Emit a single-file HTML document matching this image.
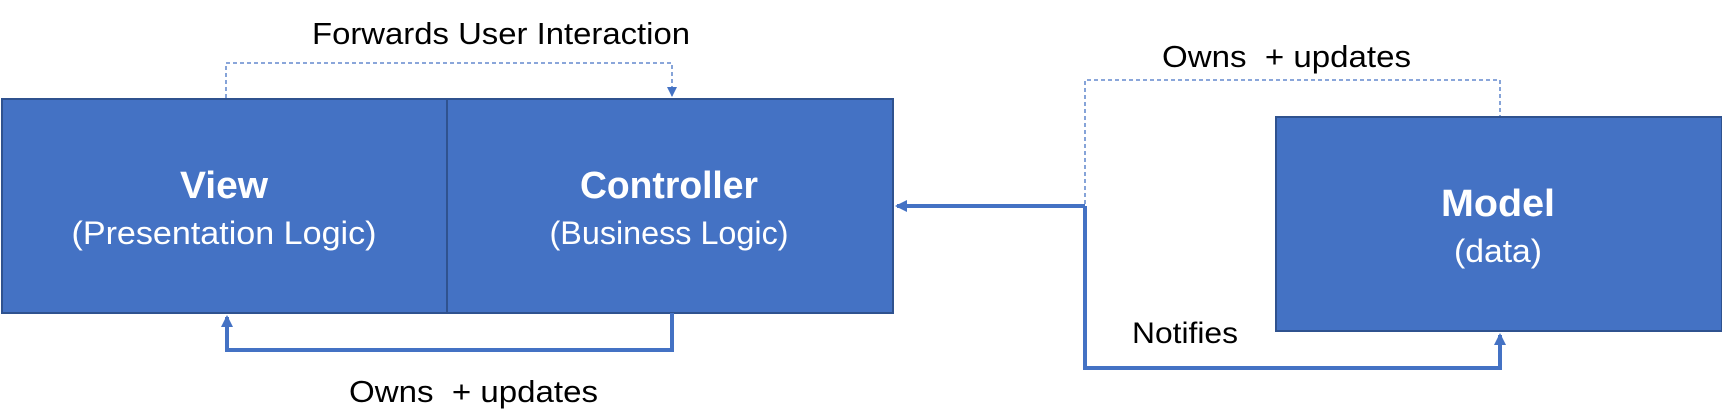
<!DOCTYPE html>
<html><head><meta charset="utf-8"><style>
html,body{margin:0;padding:0;background:#fff;}
svg{display:block;}
text{font-family:"Liberation Sans",Arial,sans-serif;}
</style></head><body>
<svg width="1722" height="420" viewBox="0 0 1722 420" xmlns="http://www.w3.org/2000/svg">
<defs>
<marker id="ah" markerWidth="12" markerHeight="12" refX="10" refY="6" orient="auto" markerUnits="userSpaceOnUse">
<path d="M0,0 L12,6 L0,12 z" fill="#4472C4"/></marker>
<marker id="ahs" markerWidth="10" markerHeight="10" refX="9" refY="5" orient="auto" markerUnits="userSpaceOnUse">
<path d="M0,0 L10,5 L0,10 z" fill="#4472C4"/></marker>
</defs>
<rect x="2" y="99" width="445" height="214" fill="#4472C4" stroke="#2F528F" stroke-width="2"/>
<rect x="447" y="99" width="446" height="214" fill="#4472C4" stroke="#2F528F" stroke-width="2"/>
<rect x="1276" y="117" width="446" height="214" fill="#4472C4" stroke="#2F528F" stroke-width="2"/>
<path d="M226,98 V63 H672 V96" fill="none" stroke="#4472C4" stroke-width="1.3" stroke-dasharray="4,3" marker-end="url(#ahs)"/>
<path d="M1085,204 V80 H1500 V116" fill="none" stroke="#4472C4" stroke-width="1.3" stroke-dasharray="4,3"/>
<path d="M672,313 V350 H227 V317" fill="none" stroke="#4472C4" stroke-width="4" marker-end="url(#ah)"/>
<path d="M1085,206 H897" fill="none" stroke="#4472C4" stroke-width="4" marker-end="url(#ah)"/>
<path d="M1085,206 V368 H1500 V335" fill="none" stroke="#4472C4" stroke-width="4" marker-end="url(#ah)"/>
<text x="312" y="44" font-size="31" textLength="378" lengthAdjust="spacingAndGlyphs" fill="#000">Forwards User Interaction</text>
<text x="349" y="402" font-size="31" textLength="249" lengthAdjust="spacingAndGlyphs" fill="#000" xml:space="preserve">Owns  + updates</text>
<text x="1162" y="67" font-size="31" textLength="249" lengthAdjust="spacingAndGlyphs" fill="#000" xml:space="preserve">Owns  + updates</text>
<text x="1132" y="343" font-size="30" textLength="106" lengthAdjust="spacingAndGlyphs" fill="#000">Notifies</text>
<text x="224" y="198" font-size="38" font-weight="bold" text-anchor="middle" textLength="88" lengthAdjust="spacingAndGlyphs" fill="#fff">View</text>
<text x="224" y="244" font-size="32" text-anchor="middle" textLength="305" lengthAdjust="spacingAndGlyphs" fill="#fff">(Presentation Logic)</text>
<text x="669" y="198" font-size="38" font-weight="bold" text-anchor="middle" textLength="178" lengthAdjust="spacingAndGlyphs" fill="#fff">Controller</text>
<text x="669" y="244" font-size="32" text-anchor="middle" textLength="239" lengthAdjust="spacingAndGlyphs" fill="#fff">(Business Logic)</text>
<text x="1498" y="216" font-size="38" font-weight="bold" text-anchor="middle" textLength="114" lengthAdjust="spacingAndGlyphs" fill="#fff">Model</text>
<text x="1498" y="262" font-size="32" text-anchor="middle" textLength="88" lengthAdjust="spacingAndGlyphs" fill="#fff">(data)</text>
</svg>
</body></html>
